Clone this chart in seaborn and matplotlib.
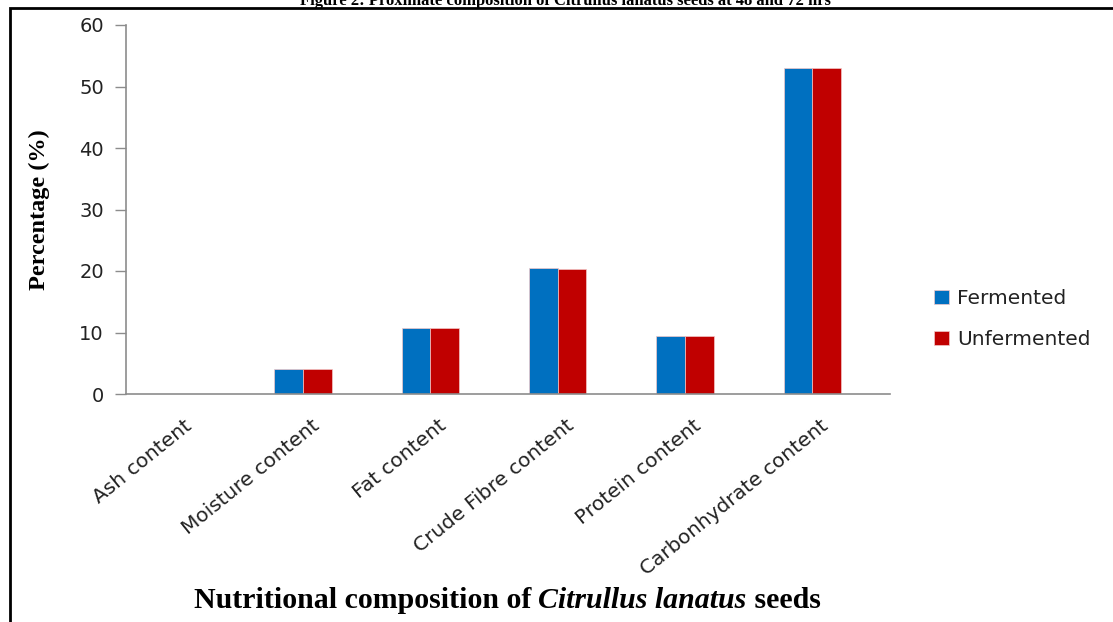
import numpy as np
import pandas as pd
import seaborn as sns
import matplotlib
matplotlib.use("Agg")
import matplotlib.pyplot as plt
from matplotlib.patches import Rectangle
from matplotlib.transforms import ScaledTranslation

categories = ["Ash content", "Moisture content", "Fat content",
              "Crude Fibre content", "Protein content", "Carbonhydrate content"]
fermented = [0.0, 4.1, 10.7, 20.5, 9.5, 53.0]
unfermented = [0.0, 4.1, 10.7, 20.3, 9.5, 53.0]
series = ["Fermented", "Unfermented"]
yticks = [0, 10, 20, 30, 40, 50, 60]

df = pd.DataFrame({
    "Nutrient": categories * 2,
    "Value": fermented + unfermented,
    "Sample": [series[0]] * len(categories) + [series[1]] * len(categories),
})

sns.set_theme(style="white")
plt.rcParams['font.family'] = ['DejaVu Sans']

W, H = 1113, 622
fig = plt.figure(figsize=(W / 100, H / 100), dpi=100)
ax = fig.add_axes([126 / W, 1 - 394 / H, (890 - 126) / W, (394 - 25) / H])

sns.barplot(data=df, x="Nutrient", y="Value", hue="Sample",
            palette=["#0070C0", "#C00000"], saturation=1, width=0.45, gap=0,
            edgecolor="#f2c8c8", linewidth=0.5, ax=ax, errorbar=None)

d = 0.11
n = len(categories)
ax.set_xlim(-0.5 + d, n - 0.5 + d)
ax.set_ylim(0, 60)
ax.set_yticks(yticks)
ax.set_yticklabels([str(t) for t in yticks], fontsize=14, color="#222222")

ax.set_xticks([k + d for k in range(n)])
ax.set_xticklabels(categories, rotation=39, ha="right", va="center",
                   rotation_mode="anchor", fontsize=14.5, color="#222222")
for lbl in ax.get_xticklabels():
    lbl.set_transform(lbl.get_transform() + ScaledTranslation(11 / 100, 0, fig.dpi_scale_trans))
ax.set_xticks([k - 0.5 + d for k in range(n + 1)], minor=True)
ax.tick_params(axis="x", which="major", length=0, pad=21)
ax.tick_params(axis="x", which="minor", length=6, width=1, color="#8c8c8c", direction="out")
ax.tick_params(axis="y", length=8, width=1, color="#8c8c8c", direction="out", pad=8, left=True)

for s in ["top", "right"]:
    ax.spines[s].set_visible(False)
for s in ["left", "bottom"]:
    ax.spines[s].set_color("#8c8c8c")
    ax.spines[s].set_linewidth(1.2)

ax.set_xlabel("")
ax.set_ylabel("Percentage (%)", fontfamily="Liberation Serif", fontweight="bold",
              fontsize=17.5, color="black")
ax.yaxis.set_label_coords((50 - 126) / (890 - 126), 0.5)

leg = ax.legend(loc="center left", bbox_to_anchor=(916 / W, 1 - 319 / H),
                bbox_transform=fig.transFigure, frameon=False, fontsize=14.5,
                handlelength=0.75, handleheight=0.75, handletextpad=0.4,
                labelspacing=1.1, title=None)
for t in leg.get_texts():
    t.set_color("#222222")

# Figure border
fig.patches.append(Rectangle((10 / W, -0.1), 1.2, 1.1 - 8 / H, transform=fig.transFigure,
                             fill=False, lw=2, ec="black"))

# Clipped caption at top
fig.text(565 / W, 1 - 5 / H,
         "Figure 2: Proximate composition of Citrullus lanatus seeds at 48 and 72 hrs",
         ha="center", va="baseline", fontfamily="Liberation Serif",
         fontweight="bold", fontsize=12, color="black")

# X-axis title with italic part
fig.canvas.draw()
renderer = fig.canvas.get_renderer()
parts = [("Nutritional composition of ", "normal"),
         ("Citrullus lanatus", "italic"),
         (" seeds", "normal")]
texts = []
for txt, style in parts:
    t = fig.text(0, 1 - 601 / H, txt, ha="left", va="center",
                 fontfamily="Liberation Serif", fontweight="bold",
                 fontstyle=style, fontsize=21.5, color="black")
    texts.append(t)
widths = [t.get_window_extent(renderer).width for t in texts]
total = sum(widths)
x = 507 - total / 2
for t, w in zip(texts, widths):
    t.set_x(x / W)
    x += w

fig.savefig("out.png", dpi=100)
